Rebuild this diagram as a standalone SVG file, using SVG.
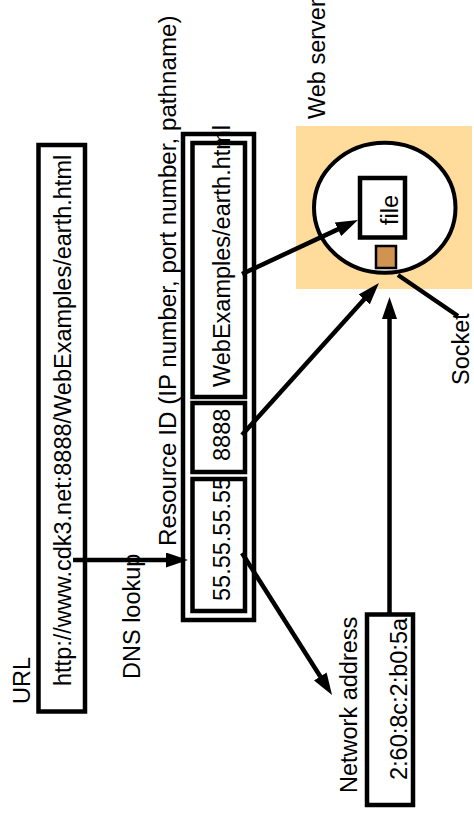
<svg xmlns="http://www.w3.org/2000/svg" width="474" height="816" viewBox="0 0 474 816">
<style>
text{font-family:"Liberation Sans",Arial,sans-serif;font-size:23.5px;fill:#000}
.box{fill:#fff;stroke:#000;stroke-width:4.5}
.ln{fill:none;stroke:#000;stroke-width:4.5}
.arr{marker-end:url(#ah)}
</style>
<defs>
<marker id="ah" markerUnits="userSpaceOnUse" markerWidth="22" markerHeight="15" refX="1" refY="7.5" orient="auto" viewBox="0 0 22 15">
<path d="M0,0 L22,7.5 L0,15 z" fill="#000"/>
</marker>
<clipPath id="c55"><rect x="190" y="479" width="60" height="140"/></clipPath>
</defs>
<rect width="474" height="816" fill="#fff"/>

<g id="url">
<text transform="translate(30,704) rotate(-90)">URL</text>
<rect class="box" x="38.5" y="145" width="46.5" height="566.5"/>
<text transform="translate(71,686) rotate(-90)">http://www.cdk3.net:8888/WebExamples/earth.html</text>
</g>

<g id="dns-label">
<text transform="translate(140,679) rotate(-90)">DNS lookup</text>
</g>

<g id="resource-id">
<text transform="translate(176,546) rotate(-90)" style="font-size:24.2px">Resource ID (IP number, port number, pathname)</text>
<rect class="box" x="183" y="134" width="71" height="486"/>
<rect class="box" x="192.5" y="143" width="52.5" height="254"/>
<rect class="box" x="192.5" y="403" width="52.5" height="69"/>
<rect class="box" x="192.5" y="479" width="52.5" height="132"/>
<text transform="translate(230,387) rotate(-90)">WebExamples/earth.html</text>
<text transform="translate(230,461) rotate(-90)">8888</text>
<g clip-path="url(#c55)"><text transform="translate(230,601) rotate(-90)">55.55.55.55</text></g>
</g>

<g id="web-server">
<text transform="translate(325,119) rotate(-90)">Web server</text>
<rect x="296" y="126" width="176" height="163" fill="#FFDC9C"/>
<ellipse cx="384.75" cy="207.75" rx="70.75" ry="65" fill="#fff" stroke="#000" stroke-width="4"/>
<g id="file">
<rect class="box" x="360" y="178" width="45" height="59.5" stroke-width="4"/>
<text transform="translate(397.5,210) rotate(-90)" text-anchor="middle">file</text>
</g>
<rect id="socket" x="376" y="246" width="20" height="22" fill="#CF9452" stroke="#000" stroke-width="2.5"/>
</g>

<g id="socket-label">
<text transform="translate(469,385) rotate(-90)">Socket</text>
</g>

<g id="network-address">
<text transform="translate(357,793) rotate(-90)">Network address</text>
<rect class="box" x="367" y="614.5" width="46" height="190.5"/>
<text transform="translate(407,780) rotate(-90)">2:60:8c:2:b0:5a</text>
</g>

<g id="connectors">
<line class="ln arr" x1="73" y1="560" x2="167" y2="560"/>
<line class="ln arr" x1="242" y1="274" x2="338.9" y2="228.9"/>
<line class="ln arr" x1="242" y1="435" x2="364.9" y2="298.6"/>
<line class="ln arr" x1="242" y1="553" x2="320.8" y2="677.3"/>
<line class="ln arr" x1="389.5" y1="614" x2="389.5" y2="318"/>
<line class="ln" x1="398" y1="275" x2="458" y2="316"/>
</g>
</svg>
